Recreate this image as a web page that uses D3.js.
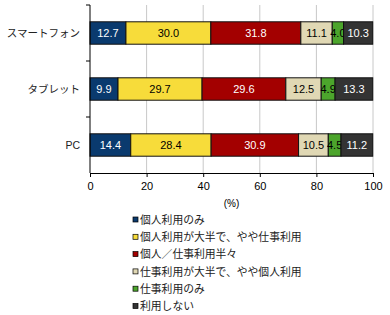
<!DOCTYPE html>
<html>
<head>
<meta charset="utf-8">
<script src="https://cdn.jsdelivr.net/npm/d3@7"></script>
<style>
  body { margin: 0; background: #fff; }
  text { font-family: "Liberation Sans", "Noto Sans CJK JP", sans-serif; }
</style>
</head>
<body>
<div id="chart"></div>
<script>
// ==== data ====
const categories = ["スマートフォン", "タブレット", "PC"];
const seriesNames = [
    "個人利用のみ",
    "個人利用が大半で、やや仕事利用",
    "個人／仕事利用半々",
    "仕事利用が大半で、やや個人利用",
    "仕事利用のみ",
    "利用しない"
];
const values = [
    [12.7, 30.0, 31.8, 11.1, 4.0, 10.3],
    [9.9, 29.7, 29.6, 12.5, 4.9, 13.3],
    [14.4, 28.4, 30.9, 10.5, 4.5, 11.2]
];
const xTicks = [0, 20, 40, 60, 80, 100];

const colors = ["#0a3a6e", "#f7dc3a", "#a30000", "#e0d8b4", "#4ca52c", "#333333"];
const textColors = ["#fff", "#000", "#fff", "#000", "#000", "#fff"];

const svg = d3.select("#chart")
    .append("svg")
    .attr("width", 390)
    .attr("height", 315);

const margin = { top: 5, left: 90 };
const width = 283;
const height = 168;

const g = svg.append("g").attr("transform", `translate(${margin.left},${margin.top})`);

const x = d3.scaleLinear().domain([0, 100]).range([0, width]);
const y = d3.scaleBand().domain(categories).range([0, height]).paddingInner(0.6).paddingOuter(0.3);

// gridlines
g.selectAll("line.grid")
    .data(xTicks.slice(1))
    .enter()
    .append("line")
    .attr("class", "grid")
    .attr("x1", d => x(d))
    .attr("x2", d => x(d))
    .attr("y1", 0)
    .attr("y2", height)
    .attr("stroke", "#c8c8c8")
    .attr("stroke-width", 1);

// bars
const rows = g.selectAll("g.row")
    .data(values)
    .enter()
    .append("g")
    .attr("class", "row")
    .attr("transform", (d, i) => `translate(0,${y(categories[i])})`);

const segs = rows.selectAll("g.seg")
    .data(d => {
        let acc = 0;
        return d.map((v, j) => {
            const s = { start: acc, value: v, j: j };
            acc += v;
            return s;
        });
    })
    .enter()
    .append("g")
    .attr("class", "seg");

segs.append("rect")
    .attr("x", d => x(d.start))
    .attr("y", 0)
    .attr("width", d => x(d.start + d.value) - x(d.start))
    .attr("height", y.bandwidth())
    .attr("fill", d => colors[d.j])
    .attr("stroke", "#111")
    .attr("stroke-width", 1);

segs.append("text")
    .attr("x", d => x(d.start + d.value / 2))
    .attr("y", y.bandwidth() / 2)
    .attr("dy", "0.36em")
    .attr("text-anchor", "middle")
    .style("font-size", "11px")
    .attr("fill", d => textColors[d.j])
    .text(d => d.value.toFixed(1));

// x axis
const xAxis = g.append("g")
    .attr("transform", `translate(0,${height})`)
    .call(d3.axisBottom(x).tickValues(xTicks).tickSize(4).tickPadding(5));
xAxis.select(".domain").attr("stroke", "#000");
xAxis.selectAll("text").style("font-size", "11px").attr("fill", "#000")
    .style("font-family", "Liberation Sans, sans-serif");

// y axis
const yAxis = g.append("g");
yAxis.append("line")
    .attr("x1", 0).attr("x2", 0)
    .attr("y1", 0).attr("y2", height)
    .attr("stroke", "#000");
yAxis.selectAll("line.tick")
    .data(d3.range(categories.length))
    .enter()
    .append("line")
    .attr("class", "tick")
    .attr("x1", -4).attr("x2", 0)
    .attr("y1", i => i * y.step())
    .attr("y2", i => i * y.step())
    .attr("stroke", "#000");
yAxis.selectAll("text")
    .data(categories)
    .enter()
    .append("text")
    .attr("x", -10)
    .attr("y", d => y(d) + y.bandwidth() / 2)
    .attr("dy", "0.36em")
    .attr("text-anchor", "end")
    .style("font-size", "10.5px")
    .attr("fill", "#222")
    .text(d => d);

// axis title
svg.append("text")
    .attr("x", margin.left + width / 2)
    .attr("y", 207)
    .attr("text-anchor", "middle")
    .style("font-size", "10px")
    .text("(%)");

// legend
const legend = svg.selectAll("g.legend")
    .data(seriesNames)
    .enter()
    .append("g")
    .attr("class", "legend")
    .attr("transform", (d, i) => `translate(133,${220 + i * 17.3})`);

legend.append("rect")
    .attr("x", 0)
    .attr("y", -3)
    .attr("width", 5)
    .attr("height", 5)
    .attr("fill", (d, i) => colors[i])
    .attr("stroke", "#000")
    .attr("stroke-width", 0.7);

legend.append("text")
    .attr("x", 7)
    .attr("y", 0)
    .attr("dy", "0.36em")
    .style("font-size", "10.8px")
    .attr("fill", "#222")
    .text(d => d);
</script>
</body>
</html>
